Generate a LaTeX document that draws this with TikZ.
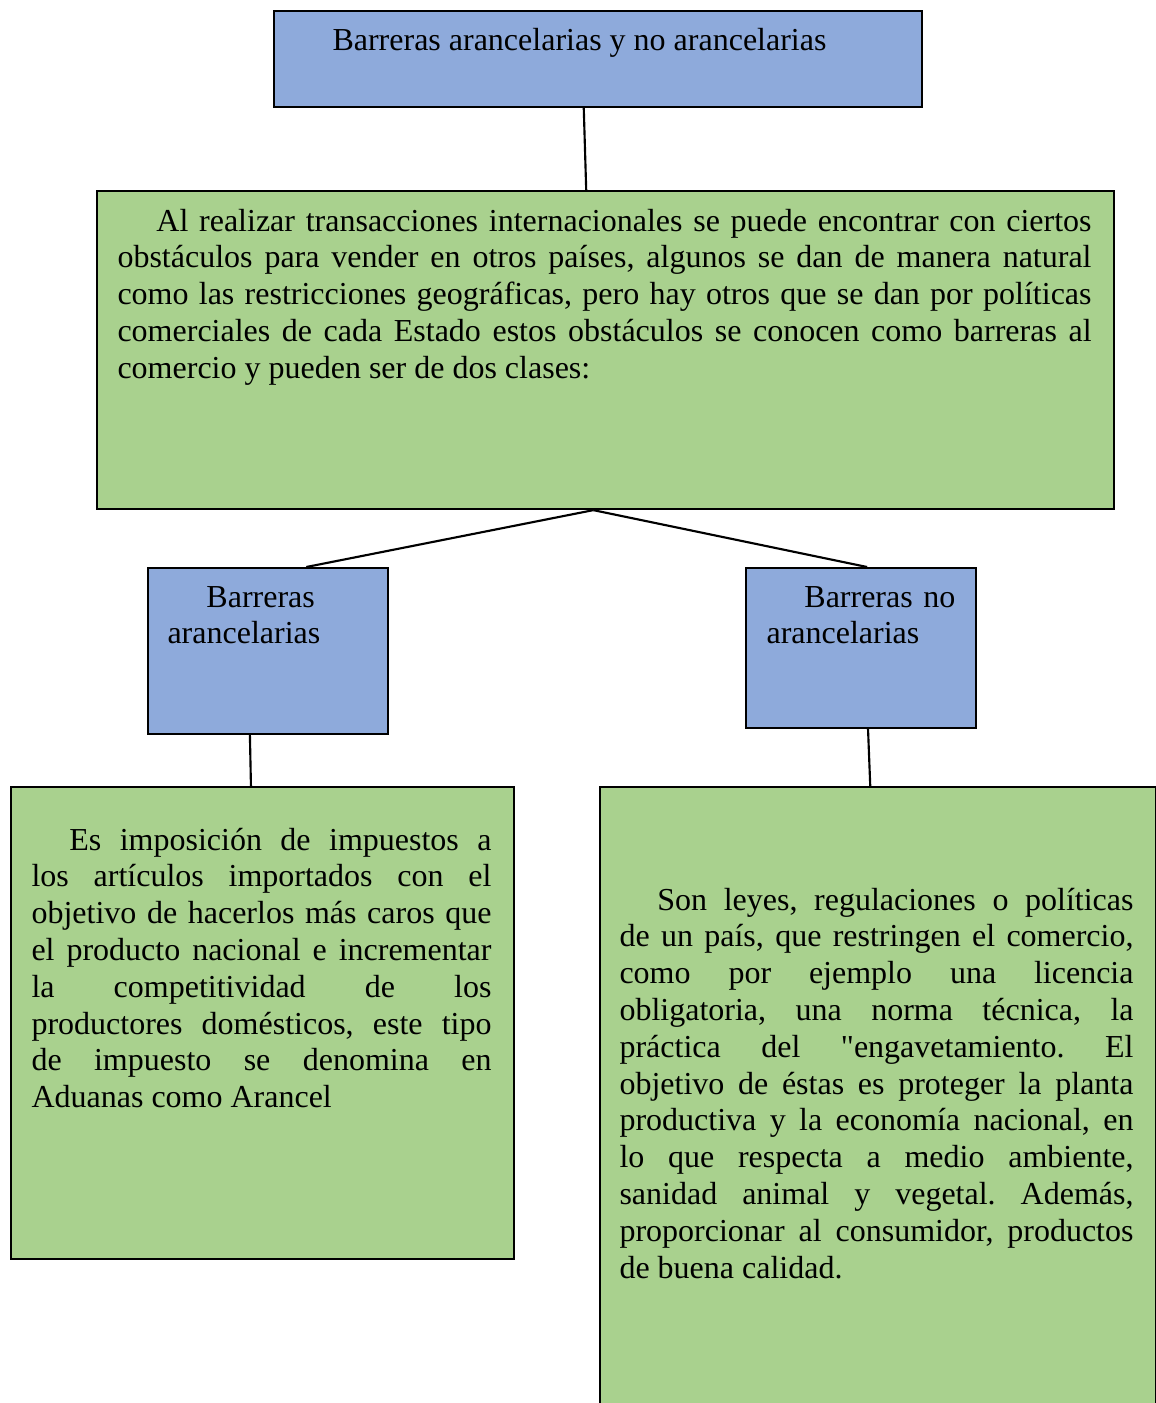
\documentclass[tikz,border=0pt]{standalone}
\usepackage{fontspec}
\setmainfont{Liberation Serif}
\usetikzlibrary{calc}
\definecolor{boxblue}{HTML}{8EAADB}
\definecolor{boxgreen}{HTML}{A9D18E}
\tolerance=10000
\hbadness=10000
\frenchspacing

\begin{document}
\begin{tikzpicture}[x=0.375pt, y=-0.375pt]
    \tikzstyle{bnode} = [thick, draw=black, fill=boxblue, rectangle, inner sep = 0pt, anchor=north west]
    \tikzstyle{gnode} = [thick, draw=black, fill=boxgreen, rectangle, inner sep = 0pt, anchor=north west]
    \tikzstyle{tnode} = [inner sep = 0pt, font=\fontsize{12}{13.8}\selectfont, anchor=base west]
    \tikzstyle{pnode} = [tnode, align=justify]
    \useasboundingbox (0,0) rectangle (1156,1403);

    % title
    \node[bnode, minimum width=243pt, minimum height=36pt] (tit) at (273,10) {};
    \node[tnode] (titlbl) at (332,50) {Barreras arancelarias y no arancelarias};

    % intro
    \node[gnode, minimum width=381.375pt, minimum height=119.25pt] (intro) at (96,190) {};
    \node[pnode, text width=365.25pt] (introlbl) at (117,231) {\noindent\hspace*{14.6pt}Al realizar transacciones internacionales se puede encontrar con ciertos\linebreak
      obstáculos para vender en otros países, algunos se dan de manera natural\linebreak
      como las restricciones geográficas, pero hay otros que se dan por políticas\linebreak
      comerciales de cada Estado estos obstáculos se conocen como barreras al\linebreak
      comercio y pueden ser de dos clases:};

    % the two kinds
    \node[bnode, minimum width=90pt, minimum height=62.25pt] (arl) at (147,567) {};
    \node[tnode, text width=80pt, align=left] (arllbl) at (167,607) {\hspace*{14.6pt}Barreras\\arancelarias};
    \node[bnode, minimum width=86.25pt, minimum height=60pt] (narl) at (745,567) {};
    \node[tnode, text width=80pt, align=left] (narllbl) at (766,607) {\hspace*{14.2pt}Barreras no\\arancelarias};

    % descriptions
    \node[gnode, minimum width=188.625pt, minimum height=177pt] (arltxt) at (10,786) {};
    \node[pnode, text width=172.5pt] (arldesc) at (31,850) {\noindent\hspace*{14.2pt}Es imposición de impuestos a\linebreak
      los artículos importados con el\linebreak
      objetivo de hacerlos más caros que\linebreak
      el producto nacional e incrementar\linebreak
      la competitividad de los\linebreak
      productores domésticos, este tipo\linebreak
      de impuesto se denomina en\linebreak
      Aduanas como Arancel};

    \node[gnode, minimum width=208.5pt, minimum height=240pt] (narltxt) at (599,786) {};
    \node[pnode, text width=192.75pt] (narldesc) at (619,910) {\noindent\hspace*{14.2pt}Son leyes, regulaciones o políticas\linebreak
      de un país, que restringen el comercio,\linebreak
      como por ejemplo una licencia\linebreak
      obligatoria, una norma técnica, la\linebreak
      práctica del \textquotedbl engavetamiento. El\linebreak
      objetivo de éstas es proteger la planta\linebreak
      productiva y la economía nacional, en\linebreak
      lo que respecta a medio ambiente,\linebreak
      sanidad animal y vegetal. Además,\linebreak
      proporcionar al consumidor, productos\linebreak
      de buena calidad.};

    % lines
    \draw[thick] ($(tit.south west)!0.478!(tit.south east)$) -- ($(intro.north west)!0.481!(intro.north east)$);
    \draw[thick] ($(intro.south west)!0.488!(intro.south east)$) -- ($(arl.north west)!0.658!(arl.north east)$);
    \draw[thick] ($(intro.south west)!0.488!(intro.south east)$) -- ($(narl.north west)!0.526!(narl.north east)$);
    \draw[thick] ($(arl.south west)!0.425!(arl.south east)$) -- ($(arltxt.north west)!0.477!(arltxt.north east)$);
    \draw[thick] ($(narl.south west)!0.530!(narl.south east)$) -- ($(narltxt.north west)!0.486!(narltxt.north east)$);
\end{tikzpicture}
\end{document}
